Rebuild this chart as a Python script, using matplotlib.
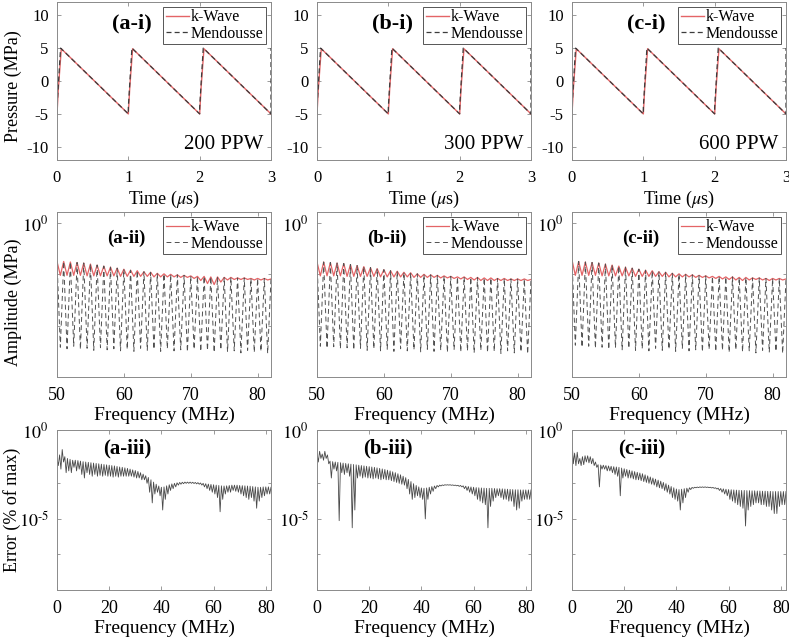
import numpy as np
import matplotlib
matplotlib.use('Agg')
import matplotlib.pyplot as plt
from matplotlib.ticker import FixedLocator, FixedFormatter, NullFormatter

plt.rcParams['font.family'] = ['Liberation Serif', 'DejaVu Serif']
plt.rcParams['mathtext.fontset'] = 'stix'
plt.rcParams['axes.unicode_minus'] = False

columns = ['a', 'b', 'c']
ppw_labels = ['200 PPW', '300 PPW', '600 PPW']

# Time traces (vertices of the sawtooth), t in us, p in MPa.
t_kwave = [0.0, 0.02, 0.06, 1.0, 1.02, 1.06, 2.0, 2.02, 2.06, 3.0]
p_kwave = [-5.0, -1.0, 4.9, -5.0, -1.0, 4.9, -5.0, -1.0, 4.9, -5.0]
t_mend = [0.0, 0.0, 0.05, 1.0, 1.0, 1.05, 2.0, 2.0, 2.05, 3.0, 3.0]
p_mend = [-5.0, -4.0, 5.0, -5.0, -4.0, 5.0, -5.0, -4.0, 5.0, -5.0, 5.0]

# Harmonic spectra 50-82 MHz, log10 of amplitude (MPa).
# peaks at each integer MHz, troughs half way between.
kwave_peak = {
    'a': [-0.75, -0.75, -0.76, -0.77, -0.78, -0.80, -0.82, -0.84, -0.86, -0.88, -0.90,
          -0.92, -0.93, -0.95, -0.96, -0.98, -0.99, -1.00, -1.01, -1.02, -1.03, -1.04,
          -1.04, -1.05, -1.05, -1.06, -1.06, -1.07, -1.07, -1.08, -1.08, -1.08, -1.09],
    'b': [-0.76, -0.76, -0.77, -0.78, -0.79, -0.81, -0.83, -0.85, -0.87, -0.89, -0.91,
          -0.93, -0.94, -0.96, -0.97, -0.99, -1.00, -1.01, -1.02, -1.03, -1.04, -1.05,
          -1.05, -1.06, -1.06, -1.07, -1.07, -1.08, -1.08, -1.09, -1.09, -1.09, -1.10],
    'c': [-0.72, -0.75, -0.76, -0.77, -0.78, -0.80, -0.82, -0.84, -0.86, -0.88, -0.90,
          -0.92, -0.93, -0.95, -0.96, -0.98, -0.99, -1.00, -1.01, -1.02, -1.03, -1.04,
          -1.04, -1.05, -1.05, -1.06, -1.06, -1.07, -1.07, -1.08, -1.08, -1.08, -1.09],
}
kwave_trough = {
    'a': [-1.02, -1.02, -1.02, -1.02, -1.03, -1.03, -1.03, -1.03, -1.03, -1.04, -1.04,
          -1.04, -1.04, -1.04, -1.05, -1.05, -1.05, -1.05, -1.06, -1.06, -1.08, -1.12,
          -1.18, -1.20, -1.15, -1.11, -1.10, -1.10, -1.10, -1.11, -1.11, -1.11],
    'b': [-1.03, -1.03, -1.03, -1.03, -1.04, -1.04, -1.04, -1.04, -1.04, -1.05, -1.05,
          -1.05, -1.05, -1.05, -1.06, -1.06, -1.06, -1.06, -1.07, -1.07, -1.08, -1.09,
          -1.10, -1.11, -1.12, -1.12, -1.12, -1.12, -1.12, -1.12, -1.12, -1.12],
    'c': [-1.02, -1.02, -1.02, -1.02, -1.03, -1.03, -1.03, -1.03, -1.03, -1.04, -1.04,
          -1.04, -1.04, -1.04, -1.05, -1.05, -1.05, -1.05, -1.06, -1.06, -1.07, -1.08,
          -1.09, -1.10, -1.11, -1.12, -1.11, -1.10, -1.11, -1.12, -1.11, -1.11],
}
mend_trough = {
    'a': [-2.42, -2.45, -2.40, -2.46, -2.44, -2.48, -2.43, -2.47, -2.45, -2.49, -2.46,
          -2.50, -2.44, -2.48, -2.46, -2.50, -2.45, -2.49, -2.47, -2.51, -2.46, -2.50,
          -2.48, -2.52, -2.47, -2.51, -2.49, -2.53, -2.48, -2.52, -2.50, -2.54],
    'b': [-2.40, -2.44, -2.41, -2.45, -2.43, -2.47, -2.44, -2.48, -2.45, -2.49, -2.46,
          -2.50, -2.45, -2.49, -2.47, -2.51, -2.46, -2.50, -2.48, -2.52, -2.47, -2.51,
          -2.49, -2.53, -2.48, -2.52, -2.50, -2.54, -2.49, -2.53, -2.51, -2.55],
    'c': [-2.38, -2.42, -2.40, -2.44, -2.42, -2.46, -2.43, -2.47, -2.44, -2.48, -2.45,
          -2.49, -2.44, -2.48, -2.46, -2.50, -2.45, -2.49, -2.47, -2.51, -2.46, -2.50,
          -2.48, -2.52, -2.47, -2.51, -2.49, -2.53, -2.48, -2.52, -2.50, -2.54],
}

# Error spectra 0-82 MHz, log10 of error.
# upper envelope at each integer MHz, lower tips half way between.
err_upper = {
    'a': [-1.60, -1.40, -1.10, -1.50, -1.60, -1.65, -1.70, -1.70, -1.72, -1.75,
          -1.78, -1.80, -1.82, -1.84, -1.86, -1.88, -1.90, -1.92, -1.94, -1.96,
          -1.98, -2.00, -2.02, -2.05, -2.08, -2.10, -2.13, -2.16, -2.20, -2.24,
          -2.28, -2.33, -2.40, -2.48, -2.57, -2.67, -2.80, -2.93, -3.05, -3.15,
          -3.22, -3.20, -3.14, -3.08, -3.03, -3.00, -2.97, -2.95, -2.94, -2.93,
          -2.93, -2.93, -2.94, -2.95, -2.96, -2.98, -3.00, -3.02, -3.04, -3.06,
          -3.08, -3.10, -3.12, -3.14, -3.15, -3.14, -3.12, -3.10, -3.10, -3.10,
          -3.12, -3.13, -3.14, -3.15, -3.16, -3.18, -3.20, -3.22, -3.22, -3.20,
          -3.20, -3.20, -3.22],
    'b': [-1.30, -1.20, -1.35, -1.20, -1.40, -1.75, -1.78, -1.80, -1.82, -1.84,
          -1.86, -1.88, -1.90, -1.92, -1.94, -1.96, -1.98, -2.00, -2.02, -2.04,
          -2.06, -2.08, -2.10, -2.13, -2.16, -2.19, -2.22, -2.26, -2.30, -2.35,
          -2.40, -2.46, -2.52, -2.60, -2.68, -2.78, -2.90, -3.02, -3.12, -3.20,
          -3.26, -3.28, -3.26, -3.22, -3.18, -3.15, -3.12, -3.10, -3.09, -3.08,
          -3.08, -3.08, -3.09, -3.10, -3.11, -3.12, -3.14, -3.16, -3.18, -3.20,
          -3.22, -3.24, -3.25, -3.26, -3.27, -3.28, -3.28, -3.28, -3.29, -3.30,
          -3.30, -3.31, -3.32, -3.33, -3.34, -3.35, -3.36, -3.36, -3.37, -3.37,
          -3.37, -3.37, -3.37],
    'c': [-0.50, -1.30, -1.25, -1.60, -1.50, -1.45, -1.45, -1.50, -1.60, -1.80,
          -1.95, -1.97, -1.98, -2.00, -2.02, -2.04, -2.06, -2.08, -2.10, -2.14,
          -2.18, -2.22, -2.26, -2.30, -2.34, -2.38, -2.42, -2.46, -2.52, -2.58,
          -2.64, -2.70, -2.76, -2.82, -2.88, -2.95, -3.02, -3.10, -3.18, -3.25,
          -3.32, -3.35, -3.33, -3.30, -3.27, -3.25, -3.23, -3.22, -3.21, -3.20,
          -3.20, -3.20, -3.21, -3.22, -3.23, -3.25, -3.27, -3.29, -3.31, -3.33,
          -3.35, -3.36, -3.37, -3.38, -3.39, -3.40, -3.40, -3.41, -3.41, -3.42,
          -3.42, -3.43, -3.43, -3.44, -3.44, -3.45, -3.45, -3.46, -3.46, -3.46,
          -3.46, -3.46, -3.46],
}
err_lower = {
    'a': [-2.00, -2.20, -1.80, -2.40, -2.30, -2.40, -2.10, -2.30, -2.20, -2.50,
          -2.70, -2.40, -2.50, -2.60, -2.50, -2.60, -2.55, -2.60, -2.55, -2.60,
          -2.60, -2.65, -2.60, -2.65, -2.60, -2.60, -2.60, -2.60, -2.60, -2.65,
          -2.70, -2.70, -2.80, -2.80, -3.00, -3.50, -4.10, -3.60, -3.50, -3.70,
          -4.50, -3.90, -3.60, -3.40, -3.30, -3.20, -3.10, -3.05, -3.02, -3.00,
          -3.00, -3.00, -3.01, -3.03, -3.05, -3.10, -3.20, -3.30, -3.40, -3.50,
          -3.60, -3.80, -4.60, -3.90, -3.60, -3.50, -3.50, -3.40, -3.45, -3.50,
          -3.60, -3.70, -3.80, -3.90, -3.80, -4.00, -4.40, -4.00, -3.80, -3.70,
          -3.60, -3.60],
    'b': [-1.80, -1.60, -1.70, -1.60, -1.90, -2.70, -2.20, -2.30, -5.10, -2.40,
          -2.50, -2.40, -2.60, -5.50, -4.50, -2.70, -2.60, -2.70, -2.65, -2.70,
          -2.70, -2.75, -2.70, -2.75, -2.80, -2.75, -2.80, -2.80, -2.85, -2.90,
          -2.95, -3.00, -3.05, -3.10, -3.30, -3.60, -3.90, -3.80, -3.70, -3.80,
          -3.90, -5.00, -3.90, -3.60, -3.45, -3.30, -3.20, -3.15, -3.12, -3.10,
          -3.10, -3.11, -3.12, -3.14, -3.17, -3.20, -3.30, -3.40, -3.50, -3.60,
          -3.70, -3.90, -4.00, -4.10, -4.20, -5.50, -4.30, -4.00, -3.80, -3.70,
          -3.80, -3.90, -3.90, -4.00, -4.00, -4.30, -4.50, -4.40, -4.00, -3.90,
          -3.90, -3.90],
    'c': [-1.90, -2.00, -1.90, -2.00, -1.95, -1.80, -1.85, -1.90, -2.00, -2.10,
          -3.20, -2.20, -2.20, -2.30, -2.30, -2.40, -2.50, -2.60, -3.70, -2.70,
          -2.60, -2.70, -2.70, -2.75, -2.80, -2.80, -2.85, -2.90, -2.95, -3.00,
          -3.05, -3.10, -3.20, -3.25, -3.30, -3.40, -3.50, -3.60, -3.80, -3.90,
          -4.00, -4.50, -4.10, -3.80, -3.50, -3.35, -3.28, -3.25, -3.24, -3.23,
          -3.23, -3.23, -3.24, -3.26, -3.28, -3.32, -3.40, -3.50, -3.60, -3.70,
          -3.90, -4.00, -4.10, -4.20, -4.30, -4.40, -5.40, -4.50, -4.30, -4.20,
          -4.10, -4.10, -4.20, -4.20, -4.30, -4.30, -4.50, -4.70, -4.70, -4.30,
          -4.20, -4.20],
}

W, H = 789.0, 640.0
col_x = [57, 317, 572]
col_w = 214
# (top, bottom) of each row in pixels
rows_px = [(2, 160), (212, 377), (430, 590)]

LABEL = 13
RED = '#e46466'
DARK = '#3c3c3c'
SPINE = '#8a8a8a'


def make_axes(fig, col, row, ticksize):
    top, bot = rows_px[row]
    ax = fig.add_axes([col_x[col] / W, 1 - bot / H, col_w / W, (bot - top) / H])
    for s in ax.spines.values():
        s.set_color(SPINE)
        s.set_linewidth(0.7)
    ax.tick_params(which='both', direction='in', top=True, right=True,
                   color=SPINE, labelsize=ticksize, width=0.6)
    ax.tick_params(which='major', length=3)
    ax.tick_params(which='minor', length=2)
    ax.tick_params(axis='x', pad=7)
    ax.tick_params(axis='y', pad=6)
    return ax


def interleave(peaks, troughs, f0):
    f = np.arange(len(peaks)) + f0
    x = np.empty(len(peaks) + len(troughs))
    y = np.empty_like(x)
    x[0::2] = f
    x[1::2] = f[:-1] + 0.5
    y[0::2] = peaks
    y[1::2] = troughs
    return x, 10.0 ** y


def add_legend(ax):
    leg = ax.legend(loc='upper right', fontsize=11.5, handlelength=1.5,
                    handletextpad=0.1, borderpad=0.15, labelspacing=0.05,
                    borderaxespad=0.3, fancybox=False, framealpha=1)
    leg.get_frame().set_edgecolor('#555555')
    leg.get_frame().set_linewidth(0.7)


def main():
    fig = plt.figure(figsize=(W / 100, H / 100), dpi=100)

    for i, c in enumerate(columns):
        # Row 1: time traces
        ax = make_axes(fig, i, 0, 12)
        ax.plot(t_kwave, p_kwave, color=RED, lw=1.0, label='k-Wave')
        ax.plot(t_mend, p_mend, color=DARK, lw=0.9, ls=(0, (4, 2.5)), label='Mendousse')
        ax.set_xlim(0, 3)
        ax.set_ylim(-12, 12)
        ax.set_xticks([0, 1, 2, 3])
        ax.set_yticks([-10, -5, 0, 5, 10])
        ax.set_xlabel(r'Time ($\mu$s)', fontsize=LABEL, labelpad=2)
        if i == 0:
            ax.set_ylabel('Pressure (MPa)', fontsize=LABEL)
            ax.yaxis.set_label_coords(-0.162, 0.47)
        add_legend(ax)
        ax.text(0.255, 0.865, '(%s-i)' % c, transform=ax.transAxes, fontsize=16,
                fontweight='bold', ha='left', va='center')
        ax.text(0.965, 0.095, ppw_labels[i], transform=ax.transAxes, fontsize=15,
                ha='right', va='center')

        # Row 2: spectra around the high harmonics
        ax = make_axes(fig, i, 1, 13)
        xk, yk = interleave(kwave_peak[c], kwave_trough[c], 50)
        xm, ym = interleave(kwave_peak[c], mend_trough[c], 50)
        ax.plot(xk, yk, color=RED, lw=0.9, label='k-Wave')
        ax.plot(xm, ym, color='#505050', lw=0.7, ls=(0, (5, 3.5)), label='Mendousse')
        ax.set_yscale('log')
        ax.set_xlim(50, 82)
        ax.set_ylim(10 ** -3, 10 ** 0.214)
        ax.set_xticks([50, 60, 70, 80])
        ax.yaxis.set_major_locator(FixedLocator([1.0]))
        ax.yaxis.set_major_formatter(FixedFormatter([r'$10^{0}$']))
        ax.yaxis.set_minor_locator(FixedLocator([1e-1, 1e-2]))
        ax.yaxis.set_minor_formatter(NullFormatter())
        ax.set_xlabel('Frequency (MHz)', fontsize=14, labelpad=2)
        if i == 0:
            ax.set_ylabel('Amplitude (MPa)', fontsize=LABEL)
            ax.yaxis.set_label_coords(-0.162, 0.45)
        add_legend(ax)
        ax.text(0.235, 0.84, '(%s-ii)' % c, transform=ax.transAxes, fontsize=13.5,
                fontweight='bold', ha='left', va='center')

        # Row 3: error spectra
        ax = make_axes(fig, i, 2, 13)
        xe, ye = interleave(err_upper[c], err_lower[c], 0)
        ax.plot(xe, ye, color='#4a4a4a', lw=0.6)
        ax.set_yscale('log')
        ax.set_xlim(0, 82)
        ax.set_ylim(1e-9, 1e0)
        ax.set_xticks([0, 20, 40, 60, 80])
        ax.yaxis.set_major_locator(FixedLocator([1e-5, 1e0]))
        ax.yaxis.set_major_formatter(FixedFormatter([r'$10^{\text{-}5}$', r'$10^{0}$']))
        ax.yaxis.set_minor_locator(FixedLocator([1e-3, 1e-7]))
        ax.yaxis.set_minor_formatter(NullFormatter())
        ax.set_xlabel('Frequency (MHz)', fontsize=14, labelpad=2)
        if i == 0:
            ax.set_ylabel('Error (% of max)', fontsize=LABEL)
            ax.yaxis.set_label_coords(-0.17, 0.5)
        ax.text(0.215, 0.8875, '(%s-iii)' % c, transform=ax.transAxes, fontsize=15,
                fontweight='bold', ha='left', va='center')

    fig.savefig('out.png', dpi=100)


if __name__ == '__main__':
    main()
